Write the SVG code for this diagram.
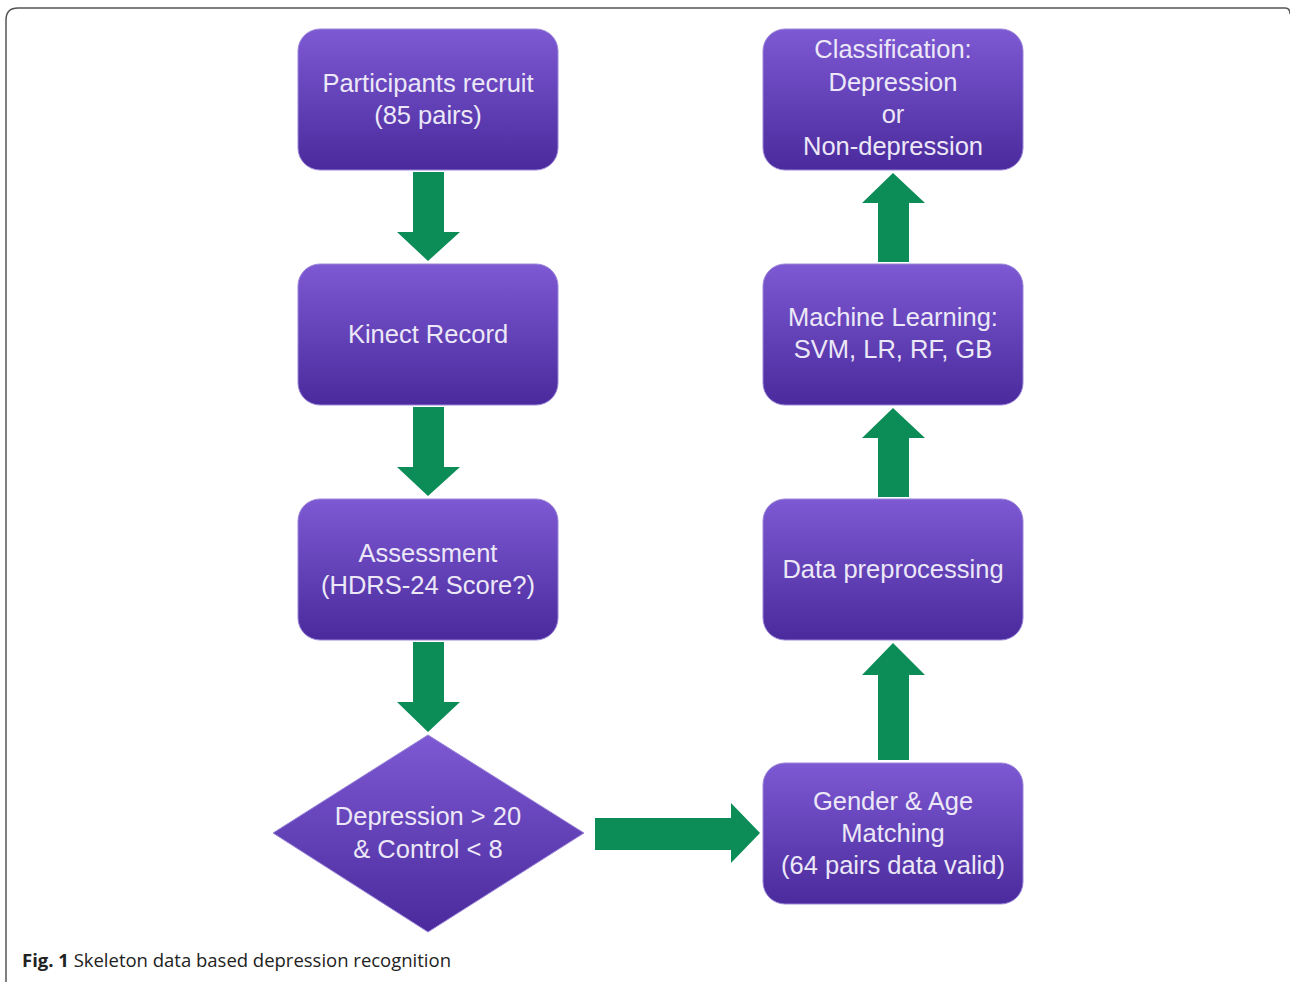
<svg xmlns="http://www.w3.org/2000/svg" width="1290" height="982" viewBox="0 0 1290 982">
<defs>
<linearGradient id="g" x1="0" y1="0" x2="0" y2="1">
<stop offset="0" stop-color="#7d59d3"/>
<stop offset="1" stop-color="#4a2a9c"/>
</linearGradient>
<style>
.box{fill:url(#g);stroke:#9b86d8;stroke-width:1}
.t{font-family:"Liberation Sans",Arial,sans-serif;font-size:25.5px;fill:#ece8f7;text-anchor:middle}
.arr{fill:#0c8c57}
.cap{font-family:"Open Sans","Liberation Sans",sans-serif;font-size:18.5px;fill:#222}
</style>
</defs>
<rect width="1290" height="982" fill="#fff"/>
<path d="M6,990 V20 Q6,8 18,8 H1285 Q1290,8 1290,14" fill="none" stroke="#555" stroke-width="1.5"/>

<g id="n1"><rect class="box" x="298" y="29" width="260" height="141" rx="22"/>
<text class="t" x="428" y="92">Participants recruit</text><text class="t" x="428" y="124">(85 pairs)</text></g>
<g id="n2"><rect class="box" x="298" y="264" width="260" height="141" rx="22"/>
<text class="t" x="428" y="343">Kinect Record</text></g>
<g id="n3"><rect class="box" x="298" y="499" width="260" height="141" rx="22"/>
<text class="t" x="428" y="562">Assessment</text><text class="t" x="428" y="594">(HDRS-24 Score?)</text></g>
<g id="n4"><polygon class="box" points="428,735 584,833 428,932 273,833"/>
<text class="t" x="428" y="825">Depression &gt; 20</text><text class="t" x="428" y="858">&amp; Control &lt; 8</text></g>
<g id="n5"><rect class="box" x="763" y="763" width="260" height="141" rx="22"/>
<text class="t" x="893" y="810">Gender &amp; Age</text><text class="t" x="893" y="842">Matching</text><text class="t" x="893" y="874">(64 pairs data valid)</text></g>
<g id="n6"><rect class="box" x="763" y="499" width="260" height="141" rx="22"/>
<text class="t" x="893" y="578">Data preprocessing</text></g>
<g id="n7"><rect class="box" x="763" y="264" width="260" height="141" rx="22"/>
<text class="t" x="893" y="326">Machine Learning:</text><text class="t" x="893" y="358">SVM, LR, RF, GB</text></g>
<g id="n8"><rect class="box" x="763" y="29" width="260" height="141" rx="22"/>
<text class="t" x="893" y="58">Classification:</text><text class="t" x="893" y="91">Depression</text><text class="t" x="893" y="123">or</text><text class="t" x="893" y="155">Non-depression</text></g>

<g id="connectors">
<polygon class="arr" points="413,172 444,172 444,232 460,232 428,261 397,232 413,232"/>
<polygon class="arr" points="413,407 444,407 444,467 460,467 428,496 397,467 413,467"/>
<polygon class="arr" points="413,642 444,642 444,702 460,702 428,732 397,702 413,702"/>
<polygon class="arr" points="595,818 731,818 731,803 760,833 731,863 731,850 595,850"/>
<polygon class="arr" points="878,760 909,760 909,675 925,675 893,643 862,675 878,675"/>
<polygon class="arr" points="878,497 909,497 909,438 925,438 893,408 862,438 878,438"/>
<polygon class="arr" points="878,262 909,262 909,203 925,203 893,173 862,203 878,203"/>
</g>
<text class="cap" x="22" y="967" textLength="429"><tspan font-weight="bold">Fig. 1</tspan> Skeleton data based depression recognition</text>
</svg>
